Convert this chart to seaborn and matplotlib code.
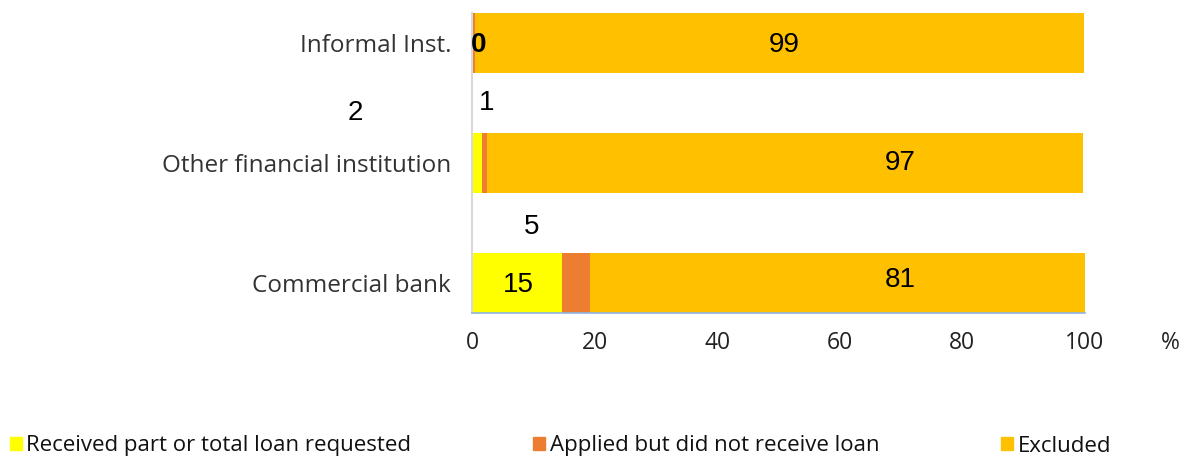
import matplotlib
matplotlib.use("Agg")
import matplotlib.pyplot as plt
import matplotlib.patches as mpatches
import seaborn as sns
import pandas as pd
import numpy as np

categories = ["Informal Inst.", "Other financial institution", "Commercial bank"]
received = [0.1, 1.7, 14.7]
applied = [0.4, 0.7, 4.6]
excluded = [99.4, 97.3, 80.7]
series_names = ["Received part or total loan requested",
                "Applied but did not receive loan", "Excluded"]
colors = ["#FFFF00", "#ED7D31", "#FFC000"]
xticks = [0, 20, 40, 60, 80, 100]

sns.set_theme(style="white")
plt.rcParams['font.family'] = ['Open Sans', 'DejaVu Sans']

df = pd.DataFrame({"cat": categories, "received": received,
                   "applied": applied, "excluded": excluded})
df["c1"] = df["received"]
df["c2"] = df["received"] + df["applied"]
df["c3"] = df["c2"] + df["excluded"]

fig = plt.figure(figsize=(11.91, 4.57), dpi=100)
ax = fig.add_axes([472/1191, 144/457, (1085-472)/1191, (313-13)/457])

for col, colr in zip(["c3", "c2", "c1"], colors[::-1]):
    sns.barplot(data=df, y="cat", x=col, orient="h", order=categories,
                color=colr, width=0.5, ax=ax, saturation=1, linewidth=0,
                edgecolor="none")

ax.set_xlim(0, 100)
ax.set_ylim(2.25, -0.25)
ax.set_xlabel("")
ax.set_ylabel("")
ax.set_xticks(xticks)
ax.set_xticklabels([str(t) for t in xticks], fontsize=16.5, color="#222222")
ax.tick_params(axis="x", direction="in", length=5, color="#8EB4E3", width=1, pad=13)
ax.tick_params(axis="y", length=0, labelsize=17.5, labelcolor="#333333", pad=15)
for s in ["top", "right"]:
    ax.spines[s].set_visible(False)
ax.spines["left"].set_color("#D9D9D9")
ax.spines["left"].set_linewidth(1.5)
ax.spines["bottom"].set_color("#8EB4E3")
ax.spines["bottom"].set_linewidth(1.2)

ax.text(1170/1191, 1 - 343/457, "%", transform=fig.transFigure,
        fontsize=16.5, ha="center", va="center", color="#222222")

# data labels
lab_font = dict(fontsize=20, color="black", ha="center", va="center",
                family=["Liberation Sans", "DejaVu Sans"])
# Informal
ax.annotate(f"{round(received[0])}", (df["c1"][0], 0), xytext=(4, -1.5),
            textcoords="offset points", fontweight="bold", **lab_font)
ax.annotate(f"{round(excluded[0])}", ((df["c2"][0] + df["c3"][0]) / 2, 0),
            xytext=(3, -1.5), textcoords="offset points", **lab_font)
# Other financial institution
ax.annotate(f"{round(received[1])}", (df["c1"][1] / 2, 1), xytext=(-88, 36),
            textcoords="offset points", **lab_font)
ax.annotate(f"{round(applied[1])}", (df["c2"][1], 1), xytext=(0, 43),
            textcoords="offset points", **lab_font)
ax.annotate(f"{round(excluded[1])}", ((df["c2"][1] + df["c3"][1]) / 2, 1),
            xytext=(83, 0), textcoords="offset points", **lab_font)
# Commercial bank
ax.annotate(f"{round(received[2])}", (df["c1"][2] / 2, 2), xytext=(1, -1.5),
            textcoords="offset points", **lab_font)
ax.annotate(f"{round(applied[2])}", ((df["c1"][2] + df["c2"][2]) / 2, 2),
            xytext=(-32, 40), textcoords="offset points", **lab_font)
ax.annotate(f"{round(excluded[2])}", ((df["c2"][2] + df["c3"][2]) / 2, 2),
            xytext=(45, 2), textcoords="offset points", **lab_font)

handles = [mpatches.Patch(color=c, label=n) for c, n in zip(colors, series_names)]
fig.legend(handles=handles, loc="center left", bbox_to_anchor=(0.008, 1 - 446/457),
           ncol=3, frameon=False, fontsize=16,
           handlelength=0.55, handleheight=0.55, handletextpad=0.2,
           columnspacing=5.48, borderaxespad=0.0, borderpad=0.0,
           labelcolor="#111111")

fig.savefig("out.png", dpi=100)
